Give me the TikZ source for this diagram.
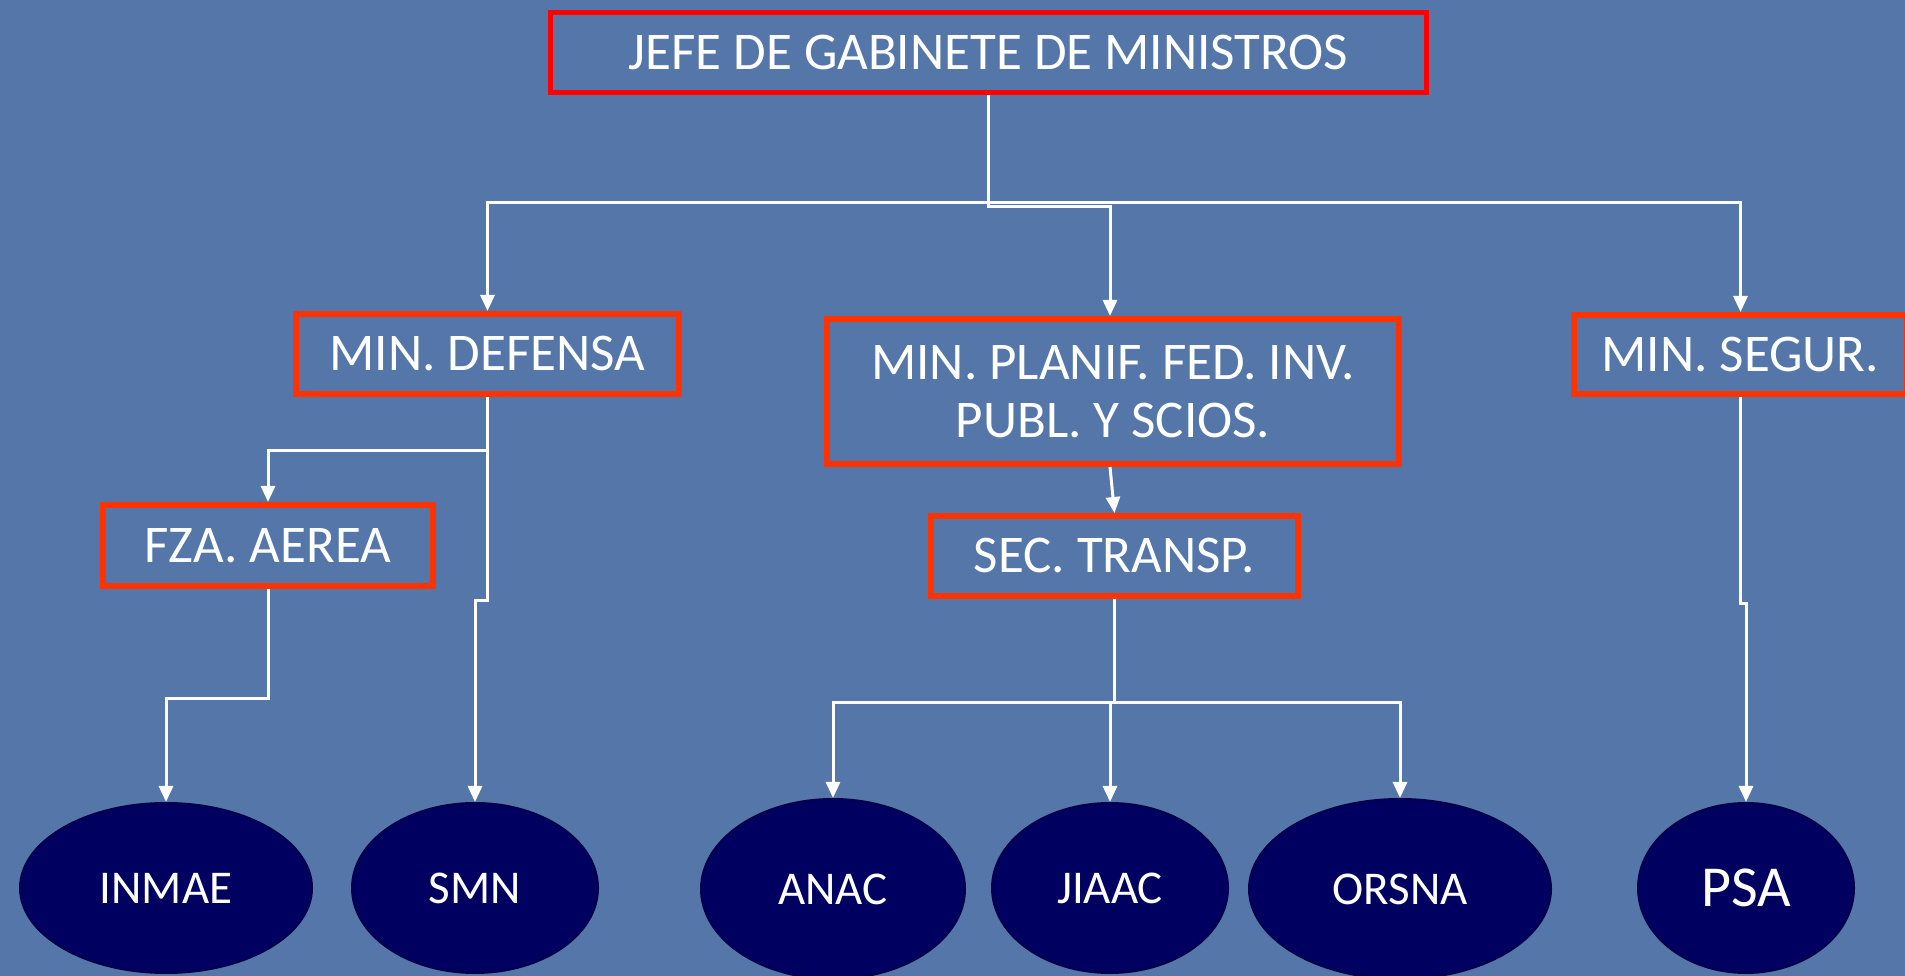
\documentclass[tikz,border=0pt]{standalone}
\usepackage{fontspec}
\setmainfont{Carlito}
\usetikzlibrary{shapes.geometric,arrows.meta}
\definecolor{fondo}{HTML}{5576A8}
\definecolor{rojo}{HTML}{FF0000}
\definecolor{naranja}{HTML}{FF3300}
\definecolor{marino}{HTML}{000060}
\definecolor{marinoborde}{HTML}{00004C}
\begin{document}
\begin{tikzpicture}[x=1pt, y=1pt,
  cargo/.style={draw=naranja, line width=6pt, text=white, inner sep=0pt, align=center, font=\fontsize{53}{58}\selectfont},
  ente/.style={ellipse, fill=marino, draw=marinoborde, line width=2pt, text=white, inner sep=0pt, font=\fontsize{47}{56}\selectfont},
  linea/.style={draw=white, line width=3pt, -{Triangle[width=14pt,length=16pt]}}]
\clip (0,0) rectangle (1905,976);
\fill[fondo] (0,0) rectangle (1905,976);
% cargos
\node[cargo, draw=rojo, line width=5pt, minimum width=876pt, minimum height=80pt] (jefe) at (988.5,923.5) {JEFE DE GABINETE DE MINISTROS};
\node[cargo, minimum width=383pt, minimum height=80pt] (defensa) at (487.5,622) {MIN. DEFENSA};
\node[cargo, minimum width=572pt, minimum height=145pt] (planif) at (1113,584.5) {MIN. PLANIF. FED. INV.\\PUBL. Y SCIOS.};
\node[cargo, minimum width=333pt, minimum height=79pt] (segur) at (1740.5,621.5) {MIN. SEGUR.};
\node[cargo, minimum width=330pt, minimum height=81pt] (fza) at (268,430.5) {FZA. AEREA};
\node[cargo, minimum width=367pt, minimum height=80pt] (sec) at (1114.5,420) {SEC. TRANSP.};
% organismos
\node[ente, minimum width=292pt, minimum height=170pt] (inmae) at (166,88) {INMAE};
\node[ente, minimum width=246pt, minimum height=170pt] (smn) at (475,88) {SMN};
\node[ente, minimum width=264pt, minimum height=180pt] (anac) at (833,87) {ANAC};
\node[ente, minimum width=236pt, minimum height=170pt] (jiaac) at (1110,88) {JIAAC};
\node[ente, minimum width=302pt, minimum height=180pt] (orsna) at (1400,87) {ORSNA};
\node[ente, minimum width=216pt, minimum height=170pt, font=\fontsize{58}{66}\selectfont] (psa) at (1746,88) {PSA};
% conectores
\draw[linea] (jefe.south) -- ++(0,-108) -| (defensa.north);
\draw[linea] (jefe.south) -- ++(0,-108) -| (segur.north);
\draw[linea] (jefe.south) -- ++(0,-112) -| ([xshift=-3pt]planif.north);
\draw[linea] (defensa.south) -- ++(0,-54) -| (fza.north);
\draw[linea] (defensa.south) -- ++(0,-204) -| (smn.north);
\draw[linea] (fza.south) -- ++(0,-109.5) -| (inmae.north);
\draw[linea] ([xshift=-3pt]planif.south) -- (sec.north);
\draw[linea] (sec.south) -- ++(0,-103.5) -| (anac.north);
\draw[linea] (sec.south) -- ++(0,-103.5) -| (jiaac.north);
\draw[linea] (sec.south) -- ++(0,-103.5) -| (orsna.north);
\draw[linea] (segur.south) -- ++(0,-206.5) -| (psa.north);
\end{tikzpicture}
\end{document}
